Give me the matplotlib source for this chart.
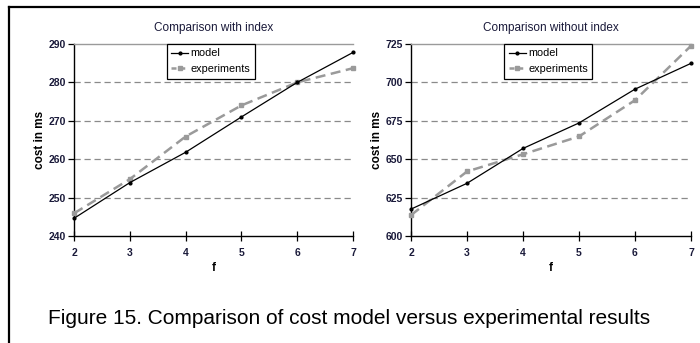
import matplotlib
matplotlib.use("Agg")
import matplotlib.pyplot as plt
from matplotlib.lines import Line2D

f_vals = [2, 3, 4, 5, 6, 7]
with_model = [244.6, 253.9, 261.8, 271.0, 280.0, 287.8]
with_exp = [245.9, 254.8, 265.9, 274.0, 280.0, 283.7]
without_model = [617.5, 634.3, 657.0, 673.6, 695.6, 712.4]
without_exp = [613.6, 642.0, 653.2, 664.8, 688.4, 723.8]

titles = ["Comparison with index", "Comparison without index"]
ylims = [(240, 290), (600, 725)]
yticks = [[240, 250, 260, 270, 280, 290], [600, 625, 650, 675, 700, 725]]
caption = "Figure 15. Comparison of cost model versus experimental results"

narrow = ['Liberation Sans', 'DejaVu Sans']
W, H = 700, 343
fig = plt.figure(figsize=(7, 3.43), dpi=100)

def ax_rect(x0, x1, y0, y1):
    return [x0 / W, 1 - y1 / H, (x1 - x0) / W, (y1 - y0) / H]

rects = [ax_rect(74, 353, 44, 236), ax_rect(411, 691, 44, 236)]
data = [(with_model, with_exp), (without_model, without_exp)]

for i in range(2):
    ax = fig.add_axes(rects[i])
    m, e = data[i]
    ax.plot(f_vals, e, color='#9a9a9a', lw=1.8, ls=(0, (4, 2.2)),
            marker='s', ms=3.2, mfc='#9a9a9a', mec='#9a9a9a', zorder=3,
            label='experiments', clip_on=False)
    ax.plot(f_vals, m, color='black', lw=0.9, marker='o', ms=2.0,
            zorder=4, label='model', clip_on=False)
    ax.set_xlim(2, 7)
    ax.set_ylim(*ylims[i])
    ax.set_xticks(f_vals)
    ax.set_yticks(yticks[i])
    for y in yticks[i][1:-1]:
        ax.axhline(y, color='#8a8a8a', lw=0.9, ls=(0, (5, 3)), zorder=1)
    ax.spines['right'].set_visible(False)
    ax.spines['top'].set_color('#9a9a9a')
    ax.spines['top'].set_linewidth(1.0)
    ax.spines['left'].set_linewidth(1.0)
    ax.spines['bottom'].set_linewidth(1.0)
    ax.tick_params(axis='x', direction='inout', length=7, width=0.9, pad=5)
    ax.tick_params(axis='y', direction='out', length=4, width=0.9, pad=2)
    for lab in ax.get_xticklabels() + ax.get_yticklabels():
        lab.set_fontfamily(narrow)
        lab.set_fontweight('bold')
        lab.set_fontsize(7.5)
        lab.set_color('#1a1a3a')
    ax.set_title(titles[i], fontsize=8.5, family=narrow, pad=9, color='#1a1a3a')
    ax.set_xlabel('f', fontsize=8.5, family=narrow, fontweight='bold', labelpad=3)
    ax.set_ylabel('cost in ms', fontsize=8.5, family=narrow, fontweight='bold', labelpad=1.5)
    handles = [Line2D([], [], color='black', lw=0.9, marker='o', ms=2.0),
               Line2D([], [], color='#9a9a9a', lw=1.8, ls=(0, (2, 1.5)),
                      marker='s', ms=3.2)]
    leg = ax.legend(handles, ['model', 'experiments'], loc='upper center',
                    bbox_to_anchor=(0.49, 1.0), borderaxespad=0,
                    fancybox=False, framealpha=1, edgecolor='black',
                    prop={'family': narrow, 'size': 7.8}, handlelength=1.6,
                    handletextpad=0.2, borderpad=0.4, labelspacing=0.55)
    leg.get_frame().set_linewidth(0.9)

# outer border lines
fig.add_artist(Line2D([9 / W, 1.0], [1 - 7 / H, 1 - 7 / H], color='black', lw=1.6,
                      transform=fig.transFigure))
fig.add_artist(Line2D([9 / W, 9 / W], [0, 1 - 7 / H], color='black', lw=1.6,
                      transform=fig.transFigure))

fig.text(349 / W, 1 - 318 / H, caption, ha='center', va='center',
         fontsize=15, family=['Liberation Sans', 'DejaVu Sans'], color='black')

fig.savefig('out.png', dpi=100)
